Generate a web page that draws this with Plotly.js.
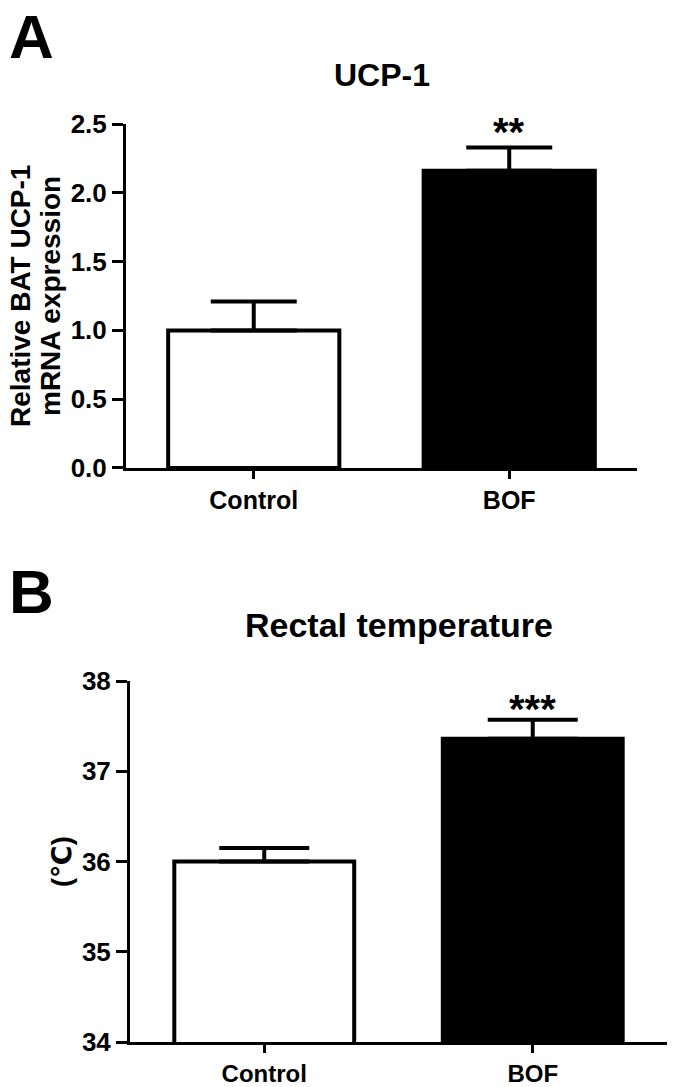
<!DOCTYPE html>
<html>
<head>
<meta charset="utf-8">
<script src="https://cdn.plot.ly/plotly-3.0.1.min.js"></script>
<style>html,body{margin:0;padding:0;background:#fff;}#chart{width:676px;height:1087px;}</style>
</head>
<body>
<div id="chart"></div>
<script>
// ---- data ----
const categories = ['Control', 'BOF'];
const ucpMean = [1.0, 2.16];
const ucpSem = [0.21, 0.17];
const tempMean = [36.0, 37.36];
const tempSem = [0.15, 0.21];
const ucpTickVals = [0, 0.5, 1.0, 1.5, 2.0, 2.5];
const tempTickVals = [34, 35, 36, 37, 38];
const sigA = '**';
const sigB = '***';
const barColors = ['#ffffff', '#000000'];
const titleA = 'UCP-1';
const titleB = 'Rectal temperature';
const yTitleA1 = 'Relative BAT UCP-1';
const yTitleA2 = 'mRNA expression';
const yTitleB = '(℃)';

const FAM = 'Arial, "Liberation Sans", "DejaVu Sans", sans-serif';
const f = (size) => ({family: FAM, size: size, color: '#000', weight: 'bold'});

const traces = [
  {
    type: 'bar', x: categories, y: ucpMean, xaxis: 'x', yaxis: 'y',
    width: 0.67,
    marker: {color: barColors, line: {color: '#000', width: 4}},
    error_y: {type: 'data', array: ucpSem, arrayminus: [0, 0], symmetric: false,
              color: '#000', thickness: 4, width: 43},
    hoverinfo: 'skip', showlegend: false
  },
  {
    type: 'bar', x: categories, y: tempMean, xaxis: 'x2', yaxis: 'y2',
    width: 0.67,
    marker: {color: barColors, line: {color: '#000', width: 4}},
    error_y: {type: 'data', array: tempSem, arrayminus: [0, 0], symmetric: false,
              color: '#000', thickness: 4, width: 45},
    hoverinfo: 'skip', showlegend: false
  }
];

const xCommon = {
  type: 'category', range: [-0.5, 1.5], showline: true, linewidth: 3, linecolor: '#000',
  ticks: 'outside', ticklen: 8, tickwidth: 3, tickcolor: '#000',
  tickfont: f(25), showgrid: false, zeroline: false, fixedrange: true
};
const yCommon = {
  showline: true, linewidth: 3, linecolor: '#000',
  ticks: 'outside', ticklen: 11, tickwidth: 3, tickcolor: '#000',
  tickfont: f(26), showgrid: false, zeroline: false, fixedrange: true
};

const layout = {
  width: 676, height: 1087,
  margin: {l: 126, r: 9, t: 124, b: 45},
  paper_bgcolor: '#fff', plot_bgcolor: '#fff',
  showlegend: false,
  bargap: 0.33,
  xaxis: Object.assign({}, xCommon, {domain: [0, 0.9445], anchor: 'y'}),
  yaxis: Object.assign({}, yCommon, {domain: [0.6253, 1], anchor: 'x', range: [0, 2.5],
    tickvals: ucpTickVals, ticktext: ucpTickVals.map(v => v.toFixed(1))}),
  xaxis2: Object.assign({}, xCommon, {domain: [0.0074, 1], anchor: 'y2', tickfont: f(24)}),
  yaxis2: Object.assign({}, yCommon, {domain: [0, 0.3932], anchor: 'x2', range: [34, 38],
    tickvals: tempTickVals, ticktext: tempTickVals.map(String)}),
  annotations: [
    {text: 'A', xref: 'paper', yref: 'paper', x: -0.1756, y: 1 + 124 / 918, xanchor: 'center', yanchor: 'top', showarrow: false, font: f(62)},
    {text: 'B', xref: 'paper', yref: 'paper', x: -0.1756, y: 0.4902, xanchor: 'center', yanchor: 'middle', showarrow: false, font: f(62)},
    {text: titleA, xref: 'paper', yref: 'paper', x: 0.4723, y: 1.0534, xanchor: 'center', yanchor: 'middle', showarrow: false, font: f(32)},
    {text: titleB, xref: 'paper', yref: 'paper', x: 0.5046, y: 0.4542, xanchor: 'center', yanchor: 'middle', showarrow: false, font: f(34)},
    {text: yTitleA1, xref: 'paper', yref: 'paper', x: (20 - 126) / 541, y: 1 - (296 - 124) / 918, xanchor: 'center', yanchor: 'middle', textangle: -90, showarrow: false, font: f(28)},
    {text: yTitleA2, xref: 'paper', yref: 'paper', x: (50 - 126) / 541, y: 1 - (296 - 124) / 918, xanchor: 'center', yanchor: 'middle', textangle: -90, showarrow: false, font: f(28)},
    {text: yTitleB, xref: 'paper', yref: 'paper', x: (62 - 126) / 541, y: 1 - (862 - 124) / 918, xanchor: 'center', yanchor: 'middle', textangle: -90, showarrow: false, font: f(27)},
    {text: sigA, xref: 'x', yref: 'y', x: categories[1], y: ucpMean[1] + ucpSem[1] + 0.11, xanchor: 'center', yanchor: 'middle', showarrow: false, font: f(40)},
    {text: sigB, xref: 'x2', yref: 'y2', x: categories[1], y: tempMean[1] + tempSem[1] + 0.12, xanchor: 'center', yanchor: 'middle', showarrow: false, font: f(40)}
  ]
};

Plotly.newPlot('chart', traces, layout, {displayModeBar: false, staticPlot: true});
</script>
</body>
</html>
